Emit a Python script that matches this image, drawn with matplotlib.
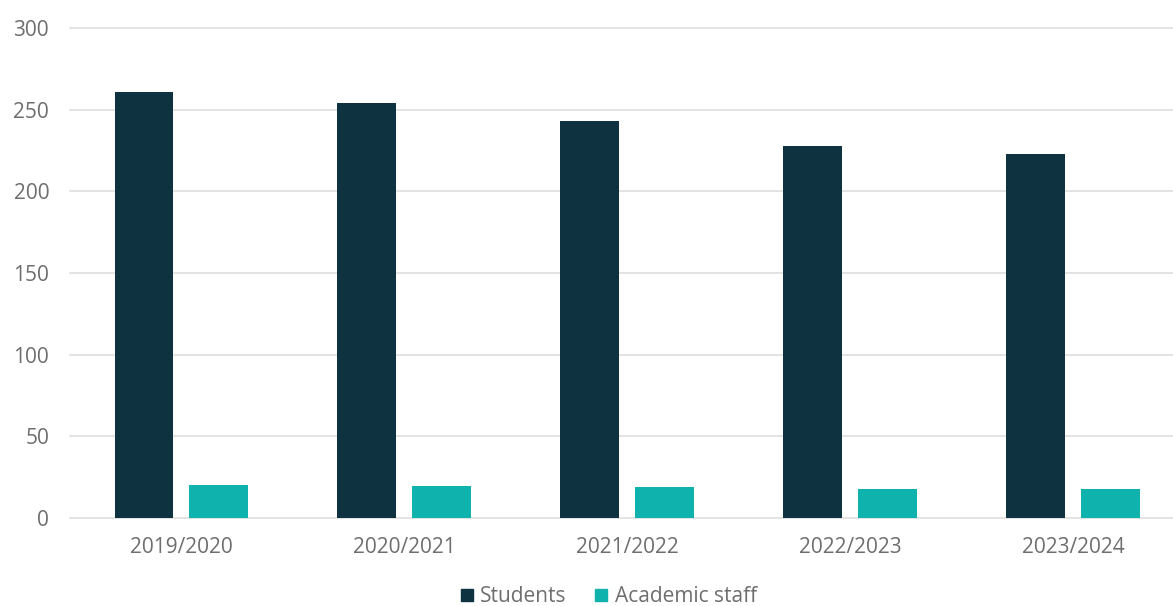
import matplotlib
matplotlib.use("Agg")
import matplotlib.pyplot as plt
from matplotlib.lines import Line2D
import numpy as np

years = ["2019/2020", "2020/2021", "2021/2022", "2022/2023", "2023/2024"]
students = [261, 254, 243, 228, 223]
academic_staff = [20, 19.5, 19, 18, 18]
y_ticks = [0, 50, 100, 150, 200, 250, 300]

dark = "#0e323f"
teal = "#0fb2ad"
grid_c = "#dedede"
text_c = "#6e6e6e"

plt.rcParams['font.family'] = ['Open Sans', 'DejaVu Sans']

W, H = 1173, 606
fig = plt.figure(figsize=(W / 100, H / 100), dpi=100)
left = 70 / W
bottom = (H - 518) / H
top = (H - 28) / H
right_px = 1184.5
ax = fig.add_axes([left, bottom, (right_px - 70) / W, top - bottom])

x = np.arange(len(years))
bw = 0.2646
off = 0.168
ax.bar(x - off, students, width=bw, color=dark, zorder=3)
ax.bar(x + off, academic_staff, width=bw, color=teal, zorder=3)

ax.set_xlim(-0.5, len(years) - 0.5)
ax.set_ylim(0, 300)
ax.set_yticks(y_ticks)
ax.set_xticks(x)
ax.set_xticklabels(years)
ax.yaxis.grid(True, color=grid_c, linewidth=1.2, zorder=0)
for gl in ax.get_ygridlines():
    gl.set_clip_on(False)
ax.set_axisbelow(True)
for s in ax.spines.values():
    s.set_visible(False)
ax.tick_params(axis='both', length=0, labelsize=15, colors=text_c)
ax.tick_params(axis='y', pad=15)
ax.tick_params(axis='x', pad=14)

handles = [
    Line2D([], [], marker='s', linestyle='none', markersize=8.5, color=dark),
    Line2D([], [], marker='s', linestyle='none', markersize=8.5, color=teal),
]
leg = fig.legend(handles, ["Students", "Academic staff"], loc='center',
                 bbox_to_anchor=(608 / W, (H - 597) / H), ncol=2, frameon=False,
                 fontsize=15, handlelength=0.7, handletextpad=0.3,
                 columnspacing=1.3, labelcolor=text_c)

fig.savefig("out.png", dpi=100)
